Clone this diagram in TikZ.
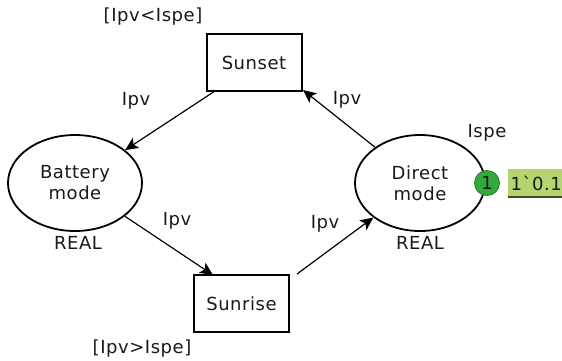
\documentclass[tikz,border=0pt]{standalone}
\usepackage{fontspec}
\setmainfont{DejaVu Sans}[LetterSpace=3]
\newfontfamily\rawfont{DejaVu Sans}[LetterSpace=3]
\usetikzlibrary{arrows.meta,shapes.geometric}
\definecolor{tokgreen}{RGB}{50,170,60}
\definecolor{lblgreen}{RGB}{180,212,110}
\definecolor{lblline}{RGB}{60,80,30}
\begin{document}
\begin{tikzpicture}[x=1pt,y=-1pt,
  every node/.style={font=\fontsize{18}{21}\selectfont, text=black!90},
  trans/.style={draw, line width=2pt, minimum width=95pt, minimum height=57pt, inner sep=0pt},
  place/.style={draw, line width=1.8pt, ellipse, minimum height=96pt, inner sep=0pt, align=center},
  arc/.style={-{Stealth[length=13pt,width=12pt,inset=3pt]}, line width=1.2pt},
  lbl/.style={inner sep=0pt}]
\useasboundingbox (0,0) rectangle (562,360);
\node[trans] (sunset) at (254,62.5) {Sunset};
\node[trans] (sunrise) at (241.5,303.5) {Sunrise};
\node[place, minimum width=134pt] (battery) at (75,183) {Battery\\mode};
\node[place, minimum width=130pt] (direct) at (420,183) {Direct\\mode};
\node[circle, fill=tokgreen, draw=tokgreen!70!black, line width=0.8pt, minimum size=25pt, inner sep=0pt] (tok) at (487,183) {1};
\node[fill=lblgreen, anchor=west, minimum width=56pt, minimum height=28pt, inner sep=2pt] (val) at (508,183) {\rawfont 1`0.1};
\draw[lblline, line width=1.5pt] (val.south west) -- (val.south east);
\node[lbl] (g1) at (153,17) {[Ipv<Ispe]};
\node[lbl] (g2) at (142,349) {[Ipv>Ispe]};
\node[lbl] (a1) at (136,101) {Ipv};
\node[lbl] (a2) at (347,100) {Ipv};
\node[lbl] (a3) at (177,221) {Ipv};
\node[lbl] (a4) at (325,224) {Ipv};
\node[lbl] (ispe) at (487,133) {Ispe};
\node[lbl] (r1) at (78,243) {REAL};
\node[lbl] (r2) at (420,243) {REAL};
\coordinate (p1) at (215,91);
\coordinate (p2) at (213,275);
\coordinate (p3) at (297,274);
\coordinate (p4) at (303,90);
\draw[arc] (p1) -- (battery);
\draw[arc] (battery) -- (p2);
\draw[arc] (p3) -- (direct);
\draw[arc] (direct) -- (p4);
\end{tikzpicture}
\end{document}
